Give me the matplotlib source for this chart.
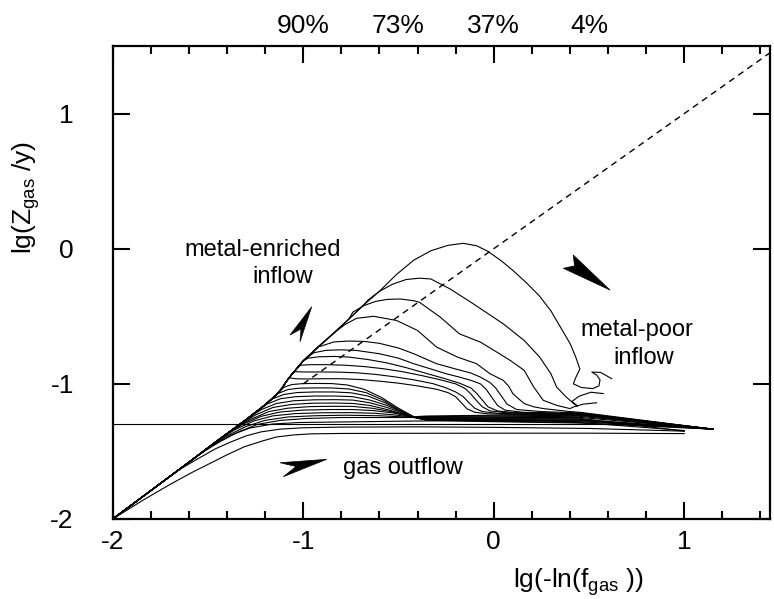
import matplotlib
matplotlib.use("Agg")
import matplotlib.pyplot as plt
from matplotlib.patches import Polygon
from matplotlib.ticker import MultipleLocator, FixedLocator

plt.rcParams['font.family'] = ['Liberation Sans', 'DejaVu Sans']
plt.rcParams['mathtext.fontset'] = 'custom'
plt.rcParams['mathtext.rm'] = 'Liberation Sans'
plt.rcParams['mathtext.it'] = 'Liberation Sans'
plt.rcParams['mathtext.bf'] = 'Liberation Sans:bold'

# ---------------- data ----------------
env_x = [-2.0, -1.8, -1.6, -1.45, -1.3, -1.2, -1.14, -1.11, -1.09, -1.06, -1.0, -0.92, -0.84, -0.76, -0.68, -0.60, -0.51]
env_y = [-2.0, -1.79, -1.58, -1.42, -1.265, -1.155, -1.08, -1.03, -0.985, -0.93, -0.83, -0.725, -0.625, -0.52, -0.413, -0.315, -0.205]

L1_x = [-2.0, -1.84, -1.70, -1.59, -1.49, -1.40, -1.31, -1.22, -1.14, -1.05, -0.96, -0.80, -0.50, 0.0, 0.5, 1.0]
L1_y = [-2.0, -1.86, -1.745, -1.66, -1.589, -1.525, -1.466, -1.425, -1.393, -1.378, -1.370, -1.367, -1.366, -1.365, -1.365, -1.368]

L2_x = [-1.66, -1.56, -1.46, -1.38, -1.30, -1.22, -1.12, -1.0, -0.8, -0.4, 0.0, 0.5, 1.0]
L2_y = [-1.643, -1.56, -1.48, -1.43, -1.385, -1.355, -1.335, -1.325, -1.32, -1.318, -1.322, -1.33, -1.35]

H_x = [-2.0, 0.9]
H_y = [-1.30, -1.30]

L3_x = [-1.58, -1.48, -1.38, -1.28, -1.16, -1.02, -0.80, -0.42, 0.0, 0.45, 1.15]
L3_y = [-1.559, -1.46, -1.38, -1.327, -1.297, -1.286, -1.282, -1.275, -1.27, -1.27, -1.335]

M11_x = [-1.54, -1.44, -1.34, -1.24, -1.12, -0.98, -0.80, -0.60, -0.42, -0.35, 0.0, 0.45, 1.15]
M11_y = [-1.516, -1.43, -1.355, -1.30, -1.27, -1.256, -1.249, -1.249, -1.249, -1.27, -1.28, -1.29, -1.335]
M10_x = [-1.50, -1.40, -1.30, -1.20, -1.08, -0.94, -0.78, -0.60, -0.42, -0.35, 0.0, 0.45, 1.0]
M10_y = [-1.473, -1.385, -1.315, -1.27, -1.245, -1.236, -1.232, -1.236, -1.248, -1.268, -1.276, -1.286, -1.345]
M9_x = [-1.46, -1.36, -1.26, -1.16, -1.04, -0.90, -0.75, -0.62, -0.52, -0.42, -0.35, 0.0, 0.45, 1.15]
M9_y = [-1.431, -1.34, -1.275, -1.237, -1.22, -1.214, -1.213, -1.218, -1.23, -1.247, -1.265, -1.272, -1.28, -1.335]
M8_x = [-1.42, -1.32, -1.22, -1.12, -1.00, -0.86, -0.74, -0.63, -0.53, -0.42, -0.35, 0.0, 0.45, 1.15]
M8_y = [-1.389, -1.30, -1.24, -1.208, -1.194, -1.19, -1.19, -1.198, -1.215, -1.246, -1.262, -1.268, -1.274, -1.335]
M7_x = [-1.38, -1.28, -1.18, -1.08, -0.96, -0.84, -0.74, -0.64, -0.54, -0.47, -0.42, -0.35, 0.0, 0.45, 1.15]
M7_y = [-1.348, -1.265, -1.205, -1.18, -1.168, -1.166, -1.167, -1.18, -1.205, -1.228, -1.246, -1.259, -1.264, -1.268, -1.335]
M6_x = [-1.34, -1.25, -1.16, -1.06, -0.95, -0.83, -0.74, -0.65, -0.56, -0.48, -0.42, -0.35, 0.0, 0.45, 1.15]
M6_y = [-1.306, -1.23, -1.175, -1.152, -1.143, -1.142, -1.145, -1.16, -1.19, -1.222, -1.246, -1.256, -1.26, -1.262, -1.335]
M5_x = [-1.30, -1.22, -1.14, -1.05, -0.94, -0.83, -0.74, -0.65, -0.56, -0.48, -0.42, -0.35, 0.0, 0.45, 1.0]
M5_y = [-1.265, -1.19, -1.145, -1.125, -1.118, -1.117, -1.12, -1.14, -1.175, -1.215, -1.245, -1.253, -1.255, -1.255, -1.35]
M4_x = [-1.26, -1.19, -1.12, -1.04, -0.94, -0.83, -0.74, -0.65, -0.56, -0.48, -0.42, -0.35, 0.0, 0.45, 1.15]
M4_y = [-1.221, -1.15, -1.11, -1.095, -1.09, -1.09, -1.095, -1.12, -1.16, -1.21, -1.245, -1.25, -1.25, -1.248, -1.335]
M3_x = [-1.22, -1.16, -1.10, -1.03, -0.94, -0.84, -0.75, -0.66, -0.57, -0.49, -0.42, -0.35, 0.0, 0.45, 1.15]
M3_y = [-1.177, -1.11, -1.078, -1.064, -1.06, -1.06, -1.066, -1.09, -1.14, -1.20, -1.245, -1.246, -1.244, -1.24, -1.335]
M2_x = [-1.18, -1.13, -1.08, -1.02, -0.94, -0.85, -0.76, -0.67, -0.58, -0.50, -0.42, -0.35, 0.0, 0.45, 1.15]
M2_y = [-1.13, -1.07, -1.042, -1.032, -1.03, -1.03, -1.038, -1.065, -1.12, -1.19, -1.244, -1.242, -1.238, -1.232, -1.335]
M1_x = [-1.13, -1.10, -1.06, -1.00, -0.93, -0.85, -0.77, -0.68, -0.59, -0.50, -0.42, -0.35, 0.0, 0.45, 1.15]
M1_y = [-1.063, -1.025, -1.005, -0.998, -0.997, -0.998, -1.008, -1.04, -1.10, -1.18, -1.243, -1.238, -1.232, -1.225, -1.335]

D3_x = [-1.075, -1.04, -0.98, -0.90, -0.80, -0.70, -0.60, -0.50, -0.40, -0.30, -0.24, -0.20, -0.17, -0.14, -0.10, -0.03, 0.15, 0.45, 1.15]
D3_y = [-0.955, -0.962, -0.964, -0.962, -0.962, -0.968, -0.98, -0.995, -1.015, -1.04, -1.065, -1.095, -1.14, -1.185, -1.21, -1.222, -1.228, -1.232, -1.335]
D2_x = [-1.05, -1.00, -0.92, -0.82, -0.72, -0.62, -0.52, -0.42, -0.32, -0.25, -0.20, -0.16, -0.13, -0.10, -0.06, 0.02, 0.2, 0.45, 1.15]
D2_y = [-0.91, -0.912, -0.912, -0.913, -0.918, -0.93, -0.948, -0.97, -0.998, -1.03, -1.06, -1.095, -1.14, -1.18, -1.205, -1.218, -1.225, -1.228, -1.335]
D1_x = [-1.015, -0.96, -0.88, -0.78, -0.68, -0.58, -0.48, -0.38, -0.28, -0.20, -0.15, -0.12, -0.09, -0.06, -0.02, 0.06, 0.2, 0.45, 1.15]
D1_y = [-0.862, -0.858, -0.858, -0.862, -0.872, -0.888, -0.91, -0.938, -0.97, -1.0, -1.035, -1.075, -1.125, -1.17, -1.2, -1.213, -1.22, -1.225, -1.335]

C7_x = [-0.975, -0.92, -0.84, -0.76, -0.66, -0.56, -0.46, -0.36, -0.26, -0.18, -0.12, -0.09, -0.06, -0.03, 0.02, 0.1, 0.25, 0.45, 1.15]
C7_y = [-0.81, -0.80, -0.797, -0.802, -0.82, -0.845, -0.88, -0.92, -0.96, -0.995, -1.03, -1.07, -1.12, -1.17, -1.2, -1.212, -1.218, -1.222, -1.335]
C6_x = [-0.945, -0.88, -0.80, -0.72, -0.60, -0.50, -0.42, -0.33, -0.25, -0.18, -0.12, -0.07, -0.04, -0.01, 0.02, 0.06, 0.15, 0.45, 1.15]
C6_y = [-0.77, -0.752, -0.748, -0.753, -0.777, -0.81, -0.851, -0.89, -0.925, -0.95, -0.974, -1.0, -1.04, -1.10, -1.16, -1.195, -1.21, -1.218, -1.335]
C5_x = [-0.905, -0.84, -0.76, -0.68, -0.60, -0.50, -0.42, -0.30, -0.20, -0.12, -0.07, -0.02, 0.01, 0.04, 0.07, 0.12, 0.25, 0.45, 1.15]
C5_y = [-0.72, -0.69, -0.683, -0.686, -0.70, -0.735, -0.777, -0.851, -0.89, -0.92, -0.95, -0.99, -1.03, -1.09, -1.15, -1.19, -1.205, -1.215, -1.335]
C4_x = [-0.84, -0.78, -0.72, -0.63, -0.51, -0.40, -0.30, -0.19, -0.09, -0.02, 0.05, 0.08, 0.10, 0.13, 0.16, 0.21, 0.26, 0.40, 0.45, 1.15]
C4_y = [-0.625, -0.56, -0.515, -0.50, -0.531, -0.605, -0.728, -0.802, -0.851, -0.925, -0.974, -1.02, -1.072, -1.11, -1.146, -1.17, -1.183, -1.205, -1.21, -1.335]
C3_x = [-0.74, -0.68, -0.62, -0.56, -0.49, -0.42, -0.39, -0.28, -0.18, -0.07, 0.03, 0.09, 0.16, 0.21, 0.26, 0.33, 0.40, 0.42, 0.47, 0.54]
C3_y = [-0.47, -0.42, -0.39, -0.375, -0.372, -0.385, -0.396, -0.507, -0.63, -0.691, -0.777, -0.83, -0.90, -1.024, -1.122, -1.159, -1.183, -1.17, -1.15, -1.14]
C2_x = [-0.66, -0.60, -0.53, -0.46, -0.39, -0.33, -0.23, -0.12, -0.02, 0.05, 0.16, 0.24, 0.30, 0.33, 0.38, 0.42, 0.44, 0.41, 0.45, 0.51, 0.575]
C2_y = [-0.38, -0.315, -0.262, -0.228, -0.218, -0.224, -0.297, -0.396, -0.49, -0.556, -0.679, -0.80, -0.925, -1.024, -1.097, -1.146, -1.165, -1.13, -1.09, -1.062, -1.072]
C1_x = [-0.60, -0.51, -0.42, -0.33, -0.24, -0.16, -0.09, -0.03, 0.04, 0.10, 0.17, 0.24, 0.30, 0.35, 0.40, 0.43, 0.452, 0.43, 0.418, 0.46, 0.52, 0.552, 0.558, 0.54, 0.515, 0.56, 0.62]
C1_y = [-0.315, -0.19, -0.085, -0.015, 0.025, 0.04, 0.022, -0.02, -0.09, -0.16, -0.25, -0.35, -0.46, -0.58, -0.70, -0.80, -0.89, -0.955, -1.0, -1.027, -1.035, -1.015, -0.97, -0.935, -0.913, -0.915, -0.962]

# closed-box reference line  lg Z = lg(-ln f)
ref_x = [-1.0, 1.45]
ref_y = [-1.0, 1.45]

xticks_major = [-2, -1, 0, 1]
yticks_major = [-2, -1, 0, 1]
top_tick_pos = [-1.0, -0.5, 0.0, 0.5]
top_tick_labels = ['90%', '73%', '37%', '4%']

curves = [(L1_x, L1_y), (L2_x, L2_y), (L3_x, L3_y),
          (M11_x, M11_y), (M10_x, M10_y), (M9_x, M9_y), (M8_x, M8_y),
          (M7_x, M7_y), (M6_x, M6_y), (M5_x, M5_y), (M4_x, M4_y),
          (M3_x, M3_y), (M2_x, M2_y), (M1_x, M1_y),
          (D3_x, D3_y), (D2_x, D2_y), (D1_x, D1_y),
          (C7_x, C7_y), (C6_x, C6_y), (C5_x, C5_y), (C4_x, C4_y),
          (C3_x, C3_y), (C2_x, C2_y), (C1_x, C1_y)]

# ---------------- figure ----------------
W, H = 774, 599
fig = plt.figure(figsize=(W / 100, H / 100), dpi=100)
ax = fig.add_axes([112.7 / W, 1 - 519 / H, 657.3 / W, 473 / H])

for cx, cy in curves:
    px = [ex for ex in env_x if ex < cx[0] - 1e-9] + list(cx)
    py = [ey for ex, ey in zip(env_x, env_y) if ex < cx[0] - 1e-9] + list(cy)
    ax.plot(px, py, color='black', lw=0.8, solid_joinstyle='round')

ax.plot(H_x, H_y, color='black', lw=0.8)
ax.plot(ref_x, ref_y, color='black', lw=1.0, ls=(0, (4.5, 3.5)))

ax.set_xlim(-2, 1.45)
ax.set_ylim(-2, 1.5)

ax.xaxis.set_major_locator(FixedLocator(xticks_major))
ax.xaxis.set_minor_locator(MultipleLocator(0.2))
ax.yaxis.set_major_locator(FixedLocator(yticks_major))
ax.set_xticklabels([str(v) for v in xticks_major])
ax.set_yticklabels([str(v) for v in yticks_major])

ax.tick_params(which='both', direction='in', top=True, right=True, width=1.5, labelsize=19)
ax.tick_params(which='major', length=12)
ax.tick_params(which='minor', length=6)
ax.tick_params(axis='x', which='major', pad=8)
ax.tick_params(axis='y', which='major', pad=28)
for s in ax.spines.values():
    s.set_linewidth(1.6)

sec = ax.secondary_xaxis('top')
sec.set_xticks(top_tick_pos)
sec.set_xticklabels(top_tick_labels)
sec.tick_params(length=0, labelsize=19, pad=6)
sec.spines['top'].set_visible(False)

ax.set_xlabel('lg(-ln(f$_{\\rm gas}$ ))', fontsize=19)
ax.set_ylabel('lg(Z$_{\\rm gas}$ /y)', fontsize=19)
ax.xaxis.set_label_coords(0.708, -0.100)
ax.yaxis.set_label_coords(-0.108, 0.681)

tkw = dict(transform=ax.transAxes, fontsize=17, va='center')
ax.text(0.228, 0.569, 'metal-enriched', ha='center', **tkw)
ax.text(0.258, 0.512, 'inflow', ha='center', **tkw)
ax.text(0.797, 0.400, 'metal-poor', ha='center', **tkw)
ax.text(0.808, 0.340, 'inflow', ha='center', **tkw)
ax.text(0.351, 0.108, 'gas outflow', ha='left', **tkw)

arrows = [
    [(0.3028, 0.4488), (0.2697, 0.3890), (0.2865, 0.4017), (0.2850, 0.3748)],
    [(0.7566, 0.4841), (0.7007, 0.5581), (0.7026, 0.5351), (0.6855, 0.5300)],
    [(0.3256, 0.1262), (0.2545, 0.1190), (0.2789, 0.1110), (0.2596, 0.0894)],
]
for pts in arrows:
    ax.add_patch(Polygon(pts, closed=True, transform=ax.transAxes,
                         facecolor='black', edgecolor='black', lw=0.5))

fig.savefig('out.png', dpi=100)
